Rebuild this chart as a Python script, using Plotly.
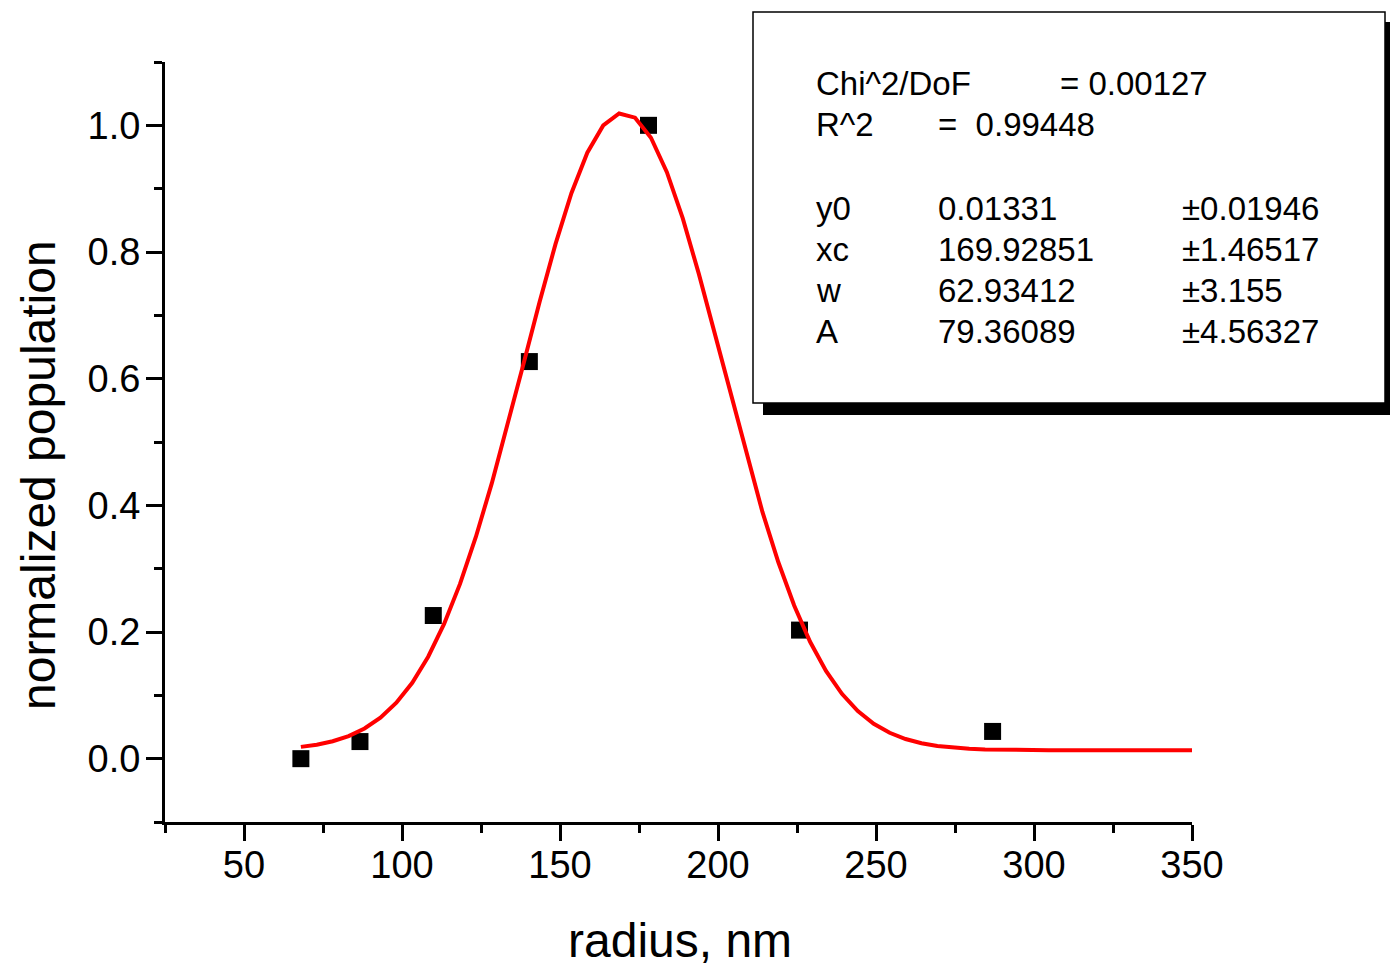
import numpy as np
import plotly.graph_objects as go

# Measured size distribution (normalized)
radius_nm = [68.0, 86.7, 109.9, 140.3, 178.0, 225.8, 286.9]
population = [0.0, 0.027, 0.226, 0.627, 1.0, 0.203, 0.043]

# Gaussian fit parameters: y = y0 + A/(w*sqrt(pi/2)) * exp(-2((x-xc)/w)^2)
fit_names = ["y0", "xc", "w", "A"]
fit_values = [0.01331, 169.92851, 62.93412, 79.36089]
fit_values_text = ["0.01331", "169.92851", "62.93412", "79.36089"]
fit_errors_text = ["0.01946", "1.46517", "3.155", "4.56327"]
chi2_dof = "0.00127"
r_squared = "0.99448"

y0, xc, w, A = fit_values
x_fit = np.linspace(68, 350, 57)
y_fit = y0 + A / (w * np.sqrt(np.pi / 2)) * np.exp(-2 * ((x_fit - xc) / w) ** 2)

FONT = "Arial, Liberation Sans, sans-serif"

fig = go.Figure()
fig.add_trace(go.Scatter(
    x=radius_nm, y=population, mode="markers",
    marker=dict(symbol="square", size=17, color="black"),
    cliponaxis=False, showlegend=False,
))
fig.add_trace(go.Scatter(
    x=x_fit, y=y_fit, mode="lines",
    line=dict(color="#ff0000", width=4),
    showlegend=False,
))

# plot area in pixels: x 165..1192, y 62..822
L, R, T, B = 165, 1192, 62, 822
W, H = 1390, 966


def px(x):
    return (x - L) / (R - L)


def py(y):
    return (B - y) / (B - T)


shapes = [
    # drop shadow of the fit-results box
    dict(type="rect", xref="paper", yref="paper",
         x0=px(763), x1=px(1400), y0=py(415), y1=py(22),
         fillcolor="black", line=dict(width=0), layer="above"),
    dict(type="rect", xref="paper", yref="paper",
         x0=px(753), x1=px(1385), y0=py(403), y1=py(12),
         fillcolor="white", line=dict(color="black", width=1.5), layer="above"),
]

annotations = []


def txt(x, y, s):
    annotations.append(dict(
        x=px(x), y=py(y), xref="paper", yref="paper", text=s,
        showarrow=False, xanchor="left", yanchor="middle",
        font=dict(family=FONT, size=33, color="black"),
    ))


txt(814, 83, "Chi^2/DoF")
txt(1058, 83, "= " + chi2_dof)
txt(814, 125, "R^2")
txt(936, 125, "=  " + r_squared)
row_y = [208, 249, 290, 331]
for name, val, err, yy in zip(fit_names, fit_values_text, fit_errors_text, row_y):
    txt(814, yy, name)
    txt(936, yy, val)
    txt(1180, yy, "\u00b1" + err)

# axis titles
annotations.append(dict(
    x=px(680), y=py(940), xref="paper", yref="paper", text="radius, nm",
    showarrow=False, xanchor="center", yanchor="middle",
    font=dict(family=FONT, size=48, color="black"),
))
annotations.append(dict(
    x=px(38), y=py(475), xref="paper", yref="paper", text="normalized population",
    showarrow=False, xanchor="center", yanchor="middle", textangle=-90,
    font=dict(family=FONT, size=48, color="black"),
))

axis_common = dict(
    showline=True, linecolor="black", linewidth=3,
    ticks="outside", ticklen=16, tickwidth=3, tickcolor="black",
    showgrid=False, zeroline=False, mirror=False,
    tickfont=dict(family=FONT, size=38, color="black"),
)

fig.update_layout(
    width=W, height=H, autosize=False,
    margin=dict(l=L, r=W - R, t=T, b=H - B),
    paper_bgcolor="white", plot_bgcolor="white",
    shapes=shapes, annotations=annotations,
    xaxis=dict(
        range=[25, 350], tick0=0, dtick=50, ticklabelstandoff=-9,
        minor=dict(ticks="outside", ticklen=8, tickwidth=3, dtick=25, tick0=0,
                   tickcolor="black", showgrid=False),
        **axis_common,
    ),
    yaxis=dict(
        range=[-0.1, 1.1], tick0=0, dtick=0.2, tickformat=".1f", ticklabelstandoff=-2,
        minor=dict(ticks="outside", ticklen=8, tickwidth=3, dtick=0.1, tick0=0,
                   tickcolor="black", showgrid=False),
        **axis_common,
    ),
)

fig.write_html("out.html")
